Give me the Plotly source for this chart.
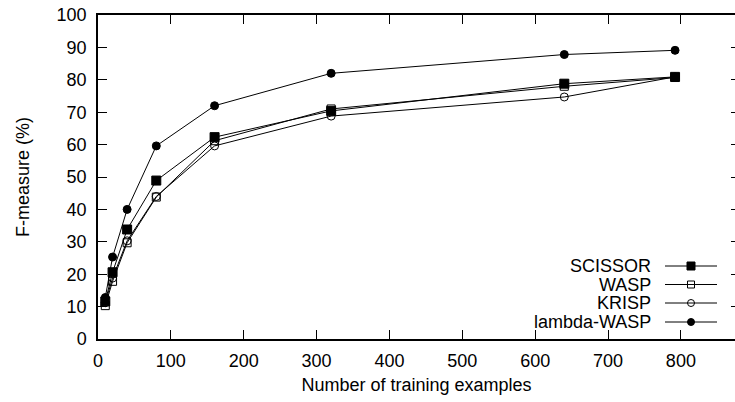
import plotly.graph_objects as go

# ---- data ----
train_sizes = [10, 20, 40, 80, 160, 320, 640, 792]
scissor = [11.6, 20.6, 33.8, 48.9, 62.3, 70.4, 78.8, 80.9]
wasp = [10.3, 17.8, 29.7, 43.8, 61.2, 71.0, 78.0, 80.7]
krisp = [11.2, 18.8, 30.3, 44.0, 59.6, 68.8, 74.7, 80.9]
lambda_wasp = [12.8, 25.3, 40.0, 59.6, 72.0, 82.0, 87.8, 89.1]
series_names = ["SCISSOR", "WASP", "KRISP", "lambda-WASP"]
x_ticks = [0, 100, 200, 300, 400, 500, 600, 700, 800]
y_ticks = [0, 10, 20, 30, 40, 50, 60, 70, 80, 90, 100]

FONT = "Liberation Sans, Arial, Helvetica, sans-serif"
FS = 18

W, H = 735, 402
L, T, R, B = 98, 15, 0, 63
PW, PH = W - L - R, H - T - B

symbols = ["square", "square-open", "circle-open", "circle"]
sizes = [9, 8, 8, 8]
data = [scissor, wasp, krisp, lambda_wasp]

fig = go.Figure()
for name, ys, sym, sz in zip(series_names, data, symbols, sizes):
    fig.add_trace(go.Scatter(
        x=train_sizes, y=ys, name=name, mode="lines+markers",
        line=dict(color="black", width=1),
        marker=dict(symbol=sym, size=sz, color="black",
                    line=dict(color="black", width=1)),
        showlegend=False, cliponaxis=False,
    ))

# custom gnuplot-style legend (text on the left, sample on the right)
leg_rows_px = [266, 284.5, 303, 322]          # pixel rows from top of figure
line_x0, line_x1, mark_x, text_x = 665, 717, 691, 653
for name, sym, sz, yp in zip(series_names, symbols, sizes, leg_rows_px):
    yy = (T + PH) - yp
    fig.add_trace(go.Scatter(
        x=[line_x0 - L, line_x1 - L], y=[yy, yy], mode="lines",
        line=dict(color="black", width=1), xaxis="x2", yaxis="y3",
        showlegend=False, hoverinfo="skip"))
    fig.add_trace(go.Scatter(
        x=[mark_x - L], y=[yy], mode="markers",
        marker=dict(symbol=sym, size=sz - 1, color="black",
                    line=dict(color="black", width=1)),
        xaxis="x2", yaxis="y3", showlegend=False, hoverinfo="skip"))
    fig.add_annotation(x=text_x - L, y=yy, xref="x2", yref="y3",
                       text=name, showarrow=False, xanchor="right",
                       yanchor="middle", font=dict(family=FONT, size=FS, color="black"))

x_max = (W - L) / 0.7286

fig.update_layout(
    width=W, height=H,
    margin=dict(l=L, r=R, t=T, b=B, pad=0),
    paper_bgcolor="white", plot_bgcolor="white",
    font=dict(family=FONT, size=FS, color="black"),
    showlegend=False,
    xaxis=dict(
        range=[0, x_max], tickvals=x_ticks, ticktext=[str(v) for v in x_ticks],
        ticks="inside", ticklen=9, tickwidth=1, tickcolor="black",
        showline=True, linecolor="black", linewidth=1.5, mirror="ticks",
        showgrid=False, zeroline=False, ticklabelstandoff=5,
        tickfont=dict(family=FONT, size=FS, color="black"),
        title=dict(text="Number of training examples", standoff=8,
                   font=dict(family=FONT, size=FS, color="black")),
    ),
    yaxis=dict(
        range=[0, 100], tickvals=y_ticks,
        ticks="inside", ticklen=9, tickwidth=1, tickcolor="black",
        showline=True, linecolor="black", linewidth=1.5, mirror=False,
        showgrid=False, zeroline=False, ticklabelstandoff=6,
        tickfont=dict(family=FONT, size=FS, color="black"),
        title=dict(text="F-measure (%)", standoff=22,
                   font=dict(family=FONT, size=FS, color="black")),
    ),
    yaxis2=dict(
        range=[0, 100], tickvals=y_ticks, overlaying="y", side="right",
        ticks="inside", ticklen=4, tickwidth=1, tickcolor="black",
        showticklabels=False, showline=False, showgrid=False, zeroline=False,
    ),
    xaxis2=dict(range=[0, PW], overlaying="x", visible=False),
    yaxis3=dict(range=[0, PH], overlaying="y", visible=False),
)
# dummy trace so yaxis2 renders ticks
fig.add_trace(go.Scatter(x=[None], y=[None], yaxis="y2", showlegend=False))

fig.write_html("out.html")
